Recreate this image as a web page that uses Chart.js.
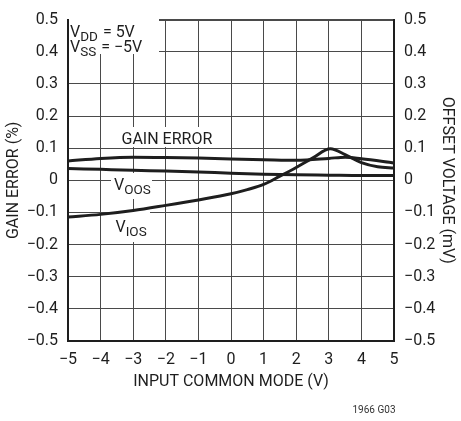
<!DOCTYPE html>
<html>
<head>
<meta charset="utf-8">
<script src="https://cdn.jsdelivr.net/npm/chart.js@4.4.1/dist/chart.umd.min.js"></script>
<style>
  html, body { margin: 0; padding: 0; background: #ffffff; }
  #wrap { width: 461px; height: 421px; position: relative; }
</style>
</head>
<body>
<div id="wrap"><canvas id="c" width="461" height="421"></canvas></div>
<script>
// ---- data ----
const xTicks = [-5, -4, -3, -2, -1, 0, 1, 2, 3, 4, 5];
const yTicks = [-0.5, -0.4, -0.3, -0.2, -0.1, 0, 0.1, 0.2, 0.3, 0.4, 0.5];

const gainX = [-5, -4, -3, -2, -1, 0, 1, 2, 3, 3.5, 4, 5];
const gainY = [0.060, 0.068, 0.072, 0.071, 0.069, 0.066, 0.064, 0.062, 0.068, 0.072, 0.067, 0.054];

const voosX = [-5, -4, -3, -2, -1, 0, 1, 2, 3, 4, 5];
const voosY = [0.037, 0.034, 0.031, 0.029, 0.026, 0.022, 0.019, 0.017, 0.016, 0.015, 0.015];

const viosX = [-5, -4, -3, -2, -1, 0, 0.5, 1, 1.5, 2, 2.5, 3.05, 3.5, 4, 4.5, 5];
const viosY = [-0.114, -0.106, -0.094, -0.078, -0.061, -0.042, -0.029, -0.013, 0.013, 0.040, 0.069, 0.098, 0.080, 0.055, 0.042, 0.038];

const FONT = "Roboto, 'Liberation Sans', Arial, sans-serif";
const FS = 16;
const INK = '#1e1e1e';
const GRID = '#4a4a4a';

function pts(xs, ys) { return xs.map((x, i) => ({ x: x, y: ys[i] })); }
function fmt(v) {
  const r = Math.round(v * 10) / 10;
  if (r === 0) return '0';
  const s = Number.isInteger(r) ? String(Math.abs(r)) : Math.abs(r).toFixed(1);
  return (r < 0 ? '\u2212' : '') + s;
}

const lineStyle = {
  borderColor: INK, borderWidth: 3, pointRadius: 0, fill: false,
  cubicInterpolationMode: 'monotone'
};

// annotation text with white backing boxes
const labelPlugin = {
  id: 'labels',
  beforeDatasetsDraw(chart) {
    const ctx = chart.ctx;
    ctx.save();
    ctx.fillStyle = '#ffffff';
    ctx.fillRect(69, 19, 90, 35);    // VDD/VSS box
    ctx.fillRect(118, 127, 94, 20);  // GAIN ERROR box
    ctx.fillRect(111, 173, 41, 26);  // VOOS box
    ctx.fillRect(112, 212, 38, 30);  // VIOS box
    ctx.fillStyle = INK;
    ctx.textBaseline = 'alphabetic';
    ctx.textAlign = 'left';
    function sub(x, y, a, b, c) {
      ctx.font = FS + 'px ' + FONT;
      ctx.fillText(a, x, y);
      x += ctx.measureText(a).width;
      ctx.font = '13.5px ' + FONT;
      ctx.fillText(b, x, y + 4);
      x += ctx.measureText(b).width + 1;
      if (c) {
        ctx.font = FS + 'px ' + FONT;
        ctx.fillText(c, x, y);
      }
    }
    sub(70, 36.5, 'V', 'DD', ' = 5V');
    sub(70, 52, 'V', 'SS', ' = \u22125V');
    ctx.font = FS + 'px ' + FONT;
    ctx.fillText('GAIN ERROR', 121.5, 144);
    sub(114, 190, 'V', 'OOS', '');
    sub(115.5, 231.5, 'V', 'IOS', '');
    ctx.restore();
  },
  afterDraw(chart) {
    const ctx = chart.ctx;
    ctx.save();
    ctx.fillStyle = '#333';
    ctx.font = '10px ' + FONT;
    ctx.textAlign = 'center';
    ctx.textBaseline = 'middle';
    ctx.fillText('1966 G03', 374, 410);
    ctx.restore();
  }
};

new Chart(document.getElementById('c'), {
  type: 'line',
  data: {
    datasets: [
      Object.assign({ label: 'GAIN ERROR', data: pts(gainX, gainY) }, lineStyle),
      Object.assign({ label: 'VOOS', data: pts(voosX, voosY) }, lineStyle),
      Object.assign({ label: 'VIOS', data: pts(viosX, viosY) }, lineStyle)
    ]
  },
  options: {
    responsive: false,
    animation: false,
    devicePixelRatio: 1,
    layout: { padding: { top: 14, left: 0, right: 0, bottom: 0 } },
    plugins: { legend: { display: false }, tooltip: { enabled: false } },
    scales: {
      x: {
        type: 'linear', min: -5, max: 5, offset: false,
        afterBuildTicks: s => { s.ticks = xTicks.map(v => ({ value: v })); },
        afterFit: s => { s.height = 80; },
        grid: {
          color: GRID, drawTicks: false,
          lineWidth: c => (c.tick && (c.tick.value === 5)) ? 2 : 1
        },
        border: { display: true, color: INK, width: 2 },
        ticks: {
          padding: 9, color: INK, font: { family: FONT, size: FS },
          callback: v => fmt(v)
        },
        title: {
          display: true, text: 'INPUT COMMON MODE (V)', color: INK,
          font: { family: FONT, size: FS }, padding: { top: 0, bottom: 29 }
        }
      },
      y: {
        type: 'linear', position: 'left', min: -0.5, max: 0.5,
        afterBuildTicks: s => { s.ticks = yTicks.map(v => ({ value: v })); },
        afterFit: s => { s.width = 68; },
        grid: {
          color: GRID, drawTicks: false,
          lineWidth: c => (c.tick && Math.abs(c.tick.value - 0.5) < 1e-6) ? 2 : 1
        },
        border: { display: true, color: INK, width: 2 },
        ticks: {
          padding: 10, color: INK, font: { family: FONT, size: FS },
          callback: v => fmt(v)
        },
        title: {
          display: true, text: 'GAIN ERROR (%)', color: INK,
          font: { family: FONT, size: FS }, padding: { top: 4, bottom: 0 }
        }
      },
      y2: {
        type: 'linear', position: 'right', min: -0.5, max: 0.5,
        afterBuildTicks: s => { s.ticks = yTicks.map(v => ({ value: v })); },
        afterFit: s => { s.width = 67; },
        grid: { drawOnChartArea: false, drawTicks: false },
        border: { display: true, color: INK, width: 2 },
        ticks: {
          padding: 10, color: INK, font: { family: FONT, size: FS },
          callback: v => fmt(v)
        },
        title: {
          display: true, text: 'OFFSET VOLTAGE (mV)', color: INK,
          font: { family: FONT, size: FS }, padding: { top: 4, bottom: 0 }
        }
      }
    }
  },
  plugins: [labelPlugin]
});
</script>
</body>
</html>
